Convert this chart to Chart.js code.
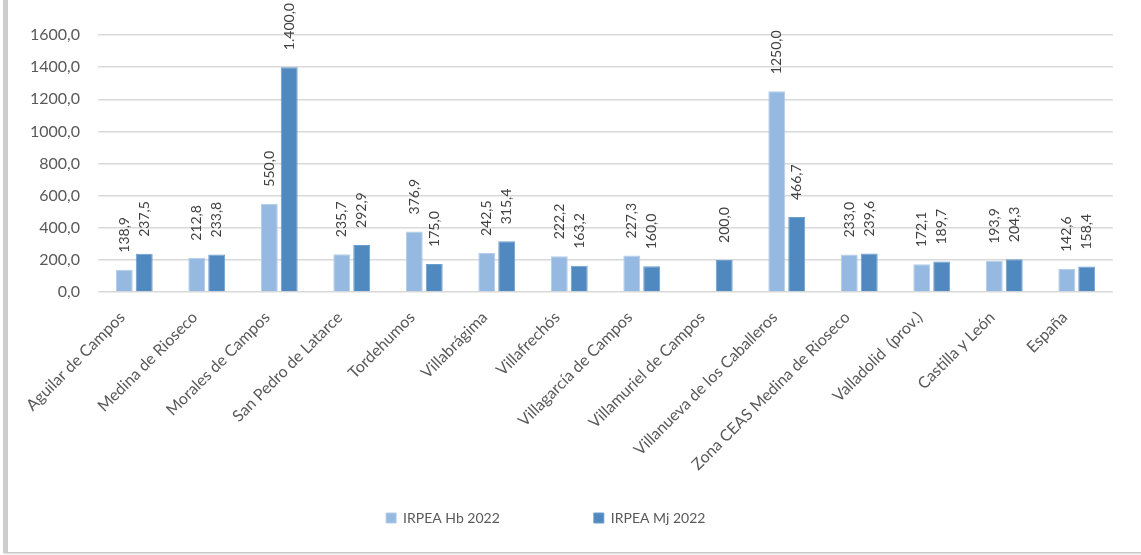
<!DOCTYPE html>
<html>
<head>
<meta charset="utf-8">
<script src="https://cdn.jsdelivr.net/npm/chart.js@4/dist/chart.umd.min.js"></script>
<style>
  html, body { margin: 0; padding: 0; background: #fff; overflow: hidden; }
  #frame {
    position: absolute; left: 3px; top: -10px; width: 1134px; height: 561px;
    border: 1px solid #c8c8c8; border-left: 5px solid #cdcdcd;
    box-shadow: 1px 1px 2px #d6d6d6;
  }
  #wrap { position: absolute; left: 0; top: 0; width: 1141px; height: 555px; }
</style>
</head>
<body>
<div id="frame"></div>
<div id="wrap"><canvas id="irpea"></canvas></div>
<script>
// categorías y valores
const municipios = [
  'Aguilar de Campos', 'Medina de Rioseco', 'Morales de Campos', 'San Pedro de Latarce',
  'Tordehumos', 'Villabrágima', 'Villafrechós', 'Villagarcía de Campos',
  'Villamuriel de Campos', 'Villanueva de los Caballeros', 'Zona CEAS Medina de Rioseco',
  'Valladolid  (prov.)', 'Castilla y León', 'España'
];
const irpeaHb = [138.9, 212.8, 550.0, 235.7, 376.9, 242.5, 222.2, 227.3, null, 1250.0, 233.0, 172.1, 193.9, 142.6];
const irpeaMj = [237.5, 233.8, 1400.0, 292.9, 175.0, 315.4, 163.2, 160.0, 200.0, 466.7, 239.6, 189.7, 204.3, 158.4];
const yTicks = [0, 200, 400, 600, 800, 1000, 1200, 1400, 1600];

const FONT = 'Lato';
const GREY = '#595959';

// 1 decimal with comma; optional thousands dot
function fmt(v, thousands) {
  let s = v.toFixed(1).replace('.', ',');
  if (thousands) s = s.replace(/\B(?=(\d{3})+(?!\d))/, '.');
  return s;
}

const barLabels = {
  id: 'barLabels',
  afterDatasetsDraw(chart) {
    const ctx = chart.ctx;
    ctx.save();
    ctx.font = '14px ' + FONT;
    ctx.fillStyle = '#404040';
    chart.data.datasets.forEach((ds, i) => {
      const meta = chart.getDatasetMeta(i);
      meta.data.forEach((bar, j) => {
        const v = ds.data[j];
        if (v == null) return;
        ctx.save();
        ctx.translate(bar.x, bar.y - 17);
        ctx.rotate(-Math.PI / 2);
        ctx.textAlign = 'left';
        ctx.textBaseline = 'middle';
        ctx.fillText(fmt(v, ds.thousands), 0, 0);
        ctx.restore();
      });
    });
    ctx.restore();
  }
};

new Chart(document.getElementById('irpea'), {
  type: 'bar',
  data: {
    labels: municipios,
    datasets: [
      { label: 'IRPEA Hb 2022', data: irpeaHb, backgroundColor: '#95b9e1', thousands: false,
        borderColor: '#b3cdea', borderWidth: 1 },
      { label: 'IRPEA Mj 2022', data: irpeaMj, backgroundColor: '#4f89bf', thousands: true,
        borderColor: '#6d9dcb', borderWidth: 1 }
    ]
  },
  options: {
    responsive: true,
    maintainAspectRatio: false,
    animation: false,
    layout: { padding: { top: 35, left: 10, right: 28, bottom: 20 } },
    datasets: { bar: { categoryPercentage: 0.55, barPercentage: 0.85 } },
    plugins: {
      legend: {
        position: 'bottom',
        labels: {
          boxWidth: 10, boxHeight: 10, padding: 10,
          color: GREY, font: { family: FONT, size: 14 },
          // wide gap between the two entries, like the original
          generateLabels: chart => Chart.defaults.plugins.legend.labels.generateLabels(chart)
            .map((l, i) => Object.assign(l, { text: l.text + '\u2003'.repeat(i === 0 ? 8 : 3) }))
        }
      },
      tooltip: { enabled: false }
    },
    scales: {
      x: {
        grid: { display: false },
        border: { display: false },
        ticks: {
          color: GREY, font: { family: FONT, size: 16 },
          minRotation: 45, maxRotation: 45, autoSkip: false, padding: 8, labelOffset: -12
        },
        afterFit: s => { s.height = 209; }
      },
      y: {
        min: 0, max: 1600,
        afterBuildTicks: s => { s.ticks = yTicks.map(v => ({ value: v })); },
        grid: { color: '#d9d9d9', lineWidth: 1.5, drawTicks: false },
        border: { display: false },
        ticks: {
          color: GREY, font: { family: FONT, size: 16 }, padding: 18,
          callback: v => fmt(v, false)
        },
        afterFit: s => { s.width = 88; }
      }
    }
  },
  plugins: [barLabels]
});
</script>
</body>
</html>
